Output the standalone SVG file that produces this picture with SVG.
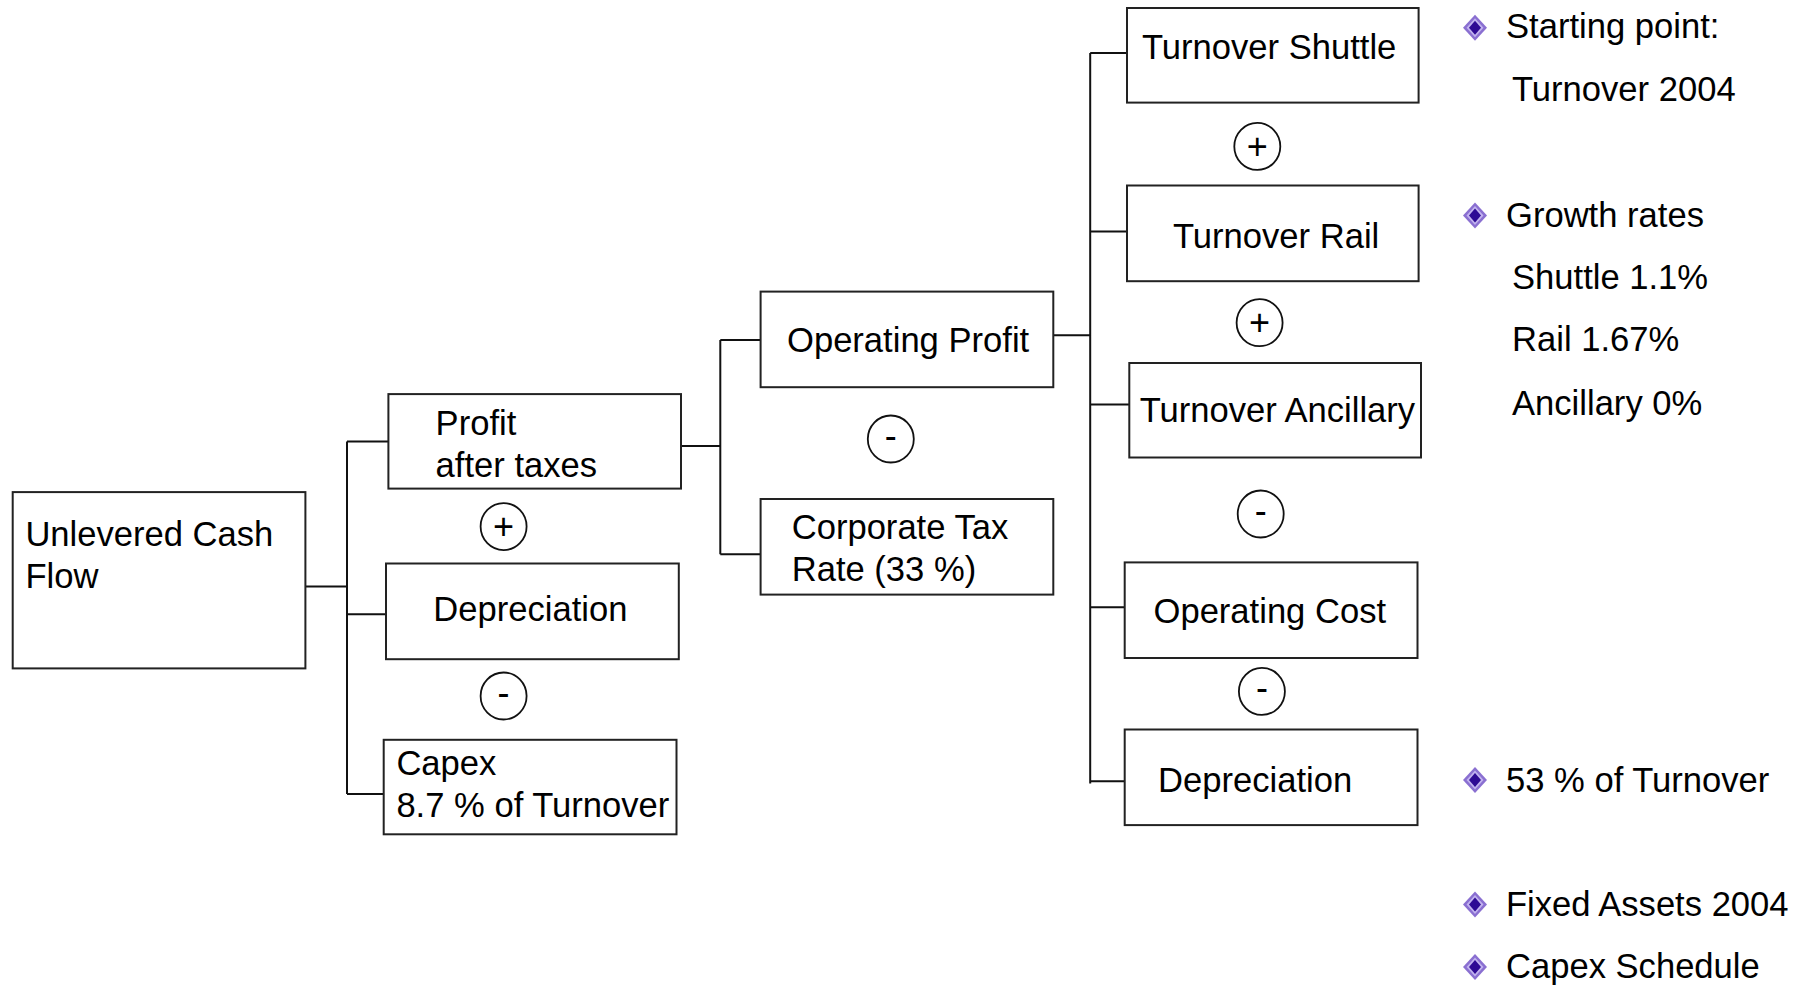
<svg xmlns="http://www.w3.org/2000/svg" width="1807" height="987" viewBox="0 0 1807 987">
<defs>
<style>
.box{fill:#fff;stroke:#222;stroke-width:2}
.t{font-family:"Liberation Sans",Arial,sans-serif;font-size:34.6px;fill:#000}
.op{fill:#fff;stroke:#111;stroke-width:1.8}
.sg{font-family:"Liberation Sans",Arial,sans-serif;font-size:36px;fill:#000;text-anchor:middle}
.ln{fill:none;stroke:#111;stroke-width:2}
</style>
<g id="dia">
<polygon points="0,-13 12,0 0,13 -12,0" fill="#8a6fd1"/>
<polygon points="0,-9.5 8.5,0 0,9.5 -8.5,0" fill="#c2b3ef"/>
<polygon points="0,-7 6,0 0,7 -6,0" fill="#2e0a94"/>
</g>
</defs>
<rect width="1807" height="987" fill="#fff"/>

<g id="connectors">
<path class="ln" d="M306,586.6 H347 M347,441.4 V794 M347,441.4 H388 M347,614.2 H386 M347,794 H384"/>
<path class="ln" d="M681,446 H720.3 M720.3,340 V554.3 M720.3,340 H760.6 M720.3,554.3 H760.6"/>
<path class="ln" d="M1053.3,335.3 H1090.2 M1090.2,53 V783.6 M1090.2,53 H1127 M1090.2,231.6 H1127 M1090.2,404.5 H1129.3 M1090.2,607.3 H1124.7 M1090.2,781.3 H1124.7"/>
</g>

<g id="n-ucf">
<rect class="box" x="12.7" y="492.1" width="292.7" height="176.3"/>
<text class="t" x="25.4" y="545.5">Unlevered Cash</text>
<text class="t" x="25.4" y="587.5">Flow</text>
</g>
<g id="n-pat">
<rect class="box" x="388.4" y="394.1" width="292.6" height="94.5"/>
<text class="t" x="435.6" y="435.3">Profit</text>
<text class="t" x="435.6" y="476.5">after taxes</text>
</g>
<g id="op-plus-1"><ellipse class="op" cx="503.6" cy="526.6" rx="23" ry="23.5"/><text class="sg" x="503.6" y="539">+</text></g>
<g id="n-dep1">
<rect class="box" x="386" y="563.5" width="292.8" height="95.7"/>
<text class="t" x="433.3" y="620.5">Depreciation</text>
</g>
<g id="op-minus-1"><ellipse class="op" cx="503.6" cy="696" rx="23" ry="23.5"/><text class="sg" x="503.6" y="705">-</text></g>
<g id="n-capex">
<rect class="box" x="383.7" y="739.8" width="292.8" height="94.5"/>
<text class="t" x="396.4" y="775.2">Capex</text>
<text class="t" x="396.4" y="816.5">8.7 % of Turnover</text>
</g>

<g id="n-opprofit">
<rect class="box" x="760.6" y="291.6" width="292.7" height="95.6"/>
<text class="t" x="787" y="352.3">Operating Profit</text>
</g>
<g id="op-minus-2"><ellipse class="op" cx="890.8" cy="439" rx="23" ry="23.5"/><text class="sg" x="890.8" y="448">-</text></g>
<g id="n-tax">
<rect class="box" x="760.6" y="499" width="292.7" height="95.6"/>
<text class="t" x="791.7" y="539">Corporate Tax</text>
<text class="t" x="791.7" y="580.5">Rate (33 %)</text>
</g>

<g id="n-shuttle">
<rect class="box" x="1127" y="8" width="291.6" height="94.6"/>
<text class="t" x="1142" y="58.5">Turnover Shuttle</text>
</g>
<g id="op-plus-2"><ellipse class="op" cx="1257.3" cy="146.4" rx="23" ry="23.5"/><text class="sg" x="1257.3" y="159">+</text></g>
<g id="n-rail">
<rect class="box" x="1127" y="185.5" width="291.6" height="95.7"/>
<text class="t" x="1173" y="247.5">Turnover Rail</text>
</g>
<g id="op-plus-3"><ellipse class="op" cx="1259.6" cy="322.7" rx="23" ry="23.5"/><text class="sg" x="1259.6" y="335">+</text></g>
<g id="n-ancillary">
<rect class="box" x="1129.3" y="363" width="291.7" height="94.5"/>
<text class="t" x="1139.7" y="421.5">Turnover Ancillary</text>
</g>
<g id="op-minus-3"><ellipse class="op" cx="1260.7" cy="514" rx="23" ry="23.5"/><text class="sg" x="1260.7" y="523">-</text></g>
<g id="n-opcost">
<rect class="box" x="1124.7" y="562.4" width="292.8" height="95.6"/>
<text class="t" x="1153.5" y="623">Operating Cost</text>
</g>
<g id="op-minus-4"><ellipse class="op" cx="1261.9" cy="691.4" rx="23" ry="23.5"/><text class="sg" x="1261.9" y="700">-</text></g>
<g id="n-dep2">
<rect class="box" x="1124.7" y="729.5" width="292.8" height="95.6"/>
<text class="t" x="1158" y="791.5">Depreciation</text>
</g>

<g id="notes">
<use href="#dia" x="1475" y="27.7"/>
<text class="t" x="1506" y="37.5">Starting point:</text>
<text class="t" x="1512" y="101">Turnover 2004</text>
<use href="#dia" x="1475" y="215.5"/>
<text class="t" x="1506" y="226.5">Growth rates</text>
<text class="t" x="1512" y="289">Shuttle 1.1%</text>
<text class="t" x="1512" y="351">Rail 1.67%</text>
<text class="t" x="1512" y="414.5">Ancillary 0%</text>
<use href="#dia" x="1475" y="780"/>
<text class="t" x="1506" y="791.5">53 % of Turnover</text>
<use href="#dia" x="1475" y="904.6"/>
<text class="t" x="1506" y="915.5">Fixed Assets 2004</text>
<use href="#dia" x="1475" y="967"/>
<text class="t" x="1506" y="978">Capex Schedule</text>
</g>
</svg>
